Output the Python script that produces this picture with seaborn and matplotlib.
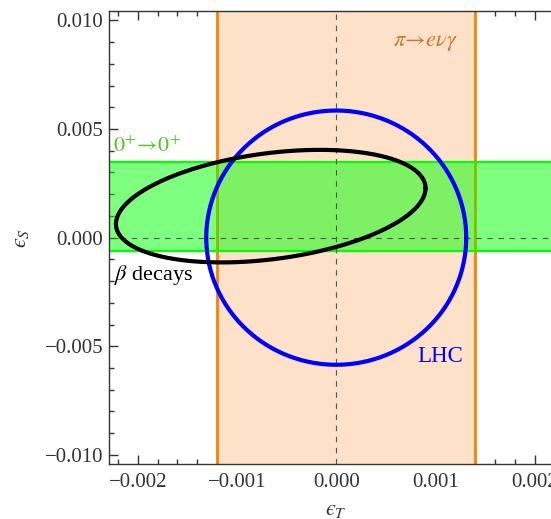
import numpy as np
import matplotlib
matplotlib.use("Agg")
import matplotlib.pyplot as plt
from matplotlib.ticker import MultipleLocator
import seaborn as sns

# ---- data ----
x_limits = [-0.00229, 0.0025]
y_limits = [-0.01043, 0.01043]
x_ticks = [-0.002, -0.001, 0.0, 0.001, 0.002]
x_tick_labels = ["\u22120.002", "\u22120.001", "0.000", "0.001", "0.002"]
y_ticks = [-0.010, -0.005, 0.0, 0.005, 0.010]
y_tick_labels = ["\u22120.010", "\u22120.005", "0.000", "0.005", "0.010"]

pi_band_x = [-0.0012, 0.0014]          # pi -> e nu gamma allowed eps_T range
superallowed_band_y = [-0.0006, 0.00347]  # 0+ -> 0+ allowed eps_S range

lhc_center = [0.0, 0.0]
lhc_semi_axes = [0.00131, 0.00585]

beta_center = [-0.00066, 0.00145]
beta_amplitudes = [0.00156, 0.00259]
beta_phase_deg = 71.5

# ---- style ----
sns.set_theme(style="white")
plt.rcParams["font.family"] = ["Liberation Serif", "DejaVu Serif"]
plt.rcParams["mathtext.fontset"] = "stix"
tick_color = "#333333"

fig = plt.figure(figsize=(5.51, 5.19), dpi=100)
ax = fig.add_axes([109 / 551, (519 - 464.3) / 519, 475.3 / 551 * (x_limits[1] - x_limits[0]) / 0.00479, 453.3 / 519])

# bands
ax.axvspan(pi_band_x[0], pi_band_x[1], color="#FDE1C9", lw=0, zorder=1)
for xv in pi_band_x:
    ax.axvline(xv, color="#FF8000", lw=2.0, zorder=2)
ax.axhspan(superallowed_band_y[0], superallowed_band_y[1], color="#00FF00", alpha=0.5, lw=0, zorder=3)
for yv in superallowed_band_y:
    ax.axhline(yv, color="#00FF00", lw=1.6, zorder=3)

# dashed zero lines
ax.axvline(0, color="#555555", lw=0.8, ls=(0, (5, 5)), zorder=4)
ax.axhline(0, color="#555555", lw=0.8, ls=(0, (5, 5)), zorder=4)

# ellipses
t = np.linspace(0, 2 * np.pi, 400)
lhc_x = lhc_center[0] + lhc_semi_axes[0] * np.cos(t)
lhc_y = lhc_center[1] + lhc_semi_axes[1] * np.sin(t)
phi = np.deg2rad(beta_phase_deg)
beta_x = beta_center[0] + beta_amplitudes[0] * np.cos(t)
beta_y = beta_center[1] + beta_amplitudes[1] * np.cos(t - phi)
sns.lineplot(x=lhc_x, y=lhc_y, sort=False, estimator=None, color="#0000FF", lw=3.0, ax=ax, zorder=5)
sns.lineplot(x=beta_x, y=beta_y, sort=False, estimator=None, color="black", lw=3.0, ax=ax, zorder=6)

# annotations
ax.text(0.000904, 0.00896, r"$\pi\!\rightarrow\! e\nu\gamma$", color="#C8782A", fontsize=16,
        ha="center", va="center", zorder=7)
ax.text(-0.00225, 0.00417, r"$\mathrm{0^{+}\!\rightarrow\! 0^{+}}$", color="#55C42A", fontsize=16,
        ha="left", va="center", zorder=7)
ax.text(-0.00224, -0.00172, r"$\beta$ decays", color="black", fontsize=16,
        ha="left", va="center", zorder=7)
ax.text(0.001045, -0.00549, "LHC", color="#0000FF", fontsize=16.5,
        ha="center", va="center", zorder=7)

# axes
ax.set_xlim(*x_limits)
ax.set_ylim(*y_limits)
ax.set_xticks(x_ticks, labels=x_tick_labels)
ax.set_yticks(y_ticks, labels=y_tick_labels)
ax.xaxis.set_minor_locator(MultipleLocator(0.0002))
ax.yaxis.set_minor_locator(MultipleLocator(0.001))
ax.tick_params(which="both", direction="in", top=True, right=True, bottom=True, left=True,
               color=tick_color, labelcolor=tick_color, labelsize=15, width=1.0)
ax.tick_params(which="major", length=6.5)
ax.tick_params(which="minor", length=3.5)
ax.tick_params(axis="x", pad=6)
ax.tick_params(axis="y", pad=4)
for sp in ax.spines.values():
    sp.set_color(tick_color)
    sp.set_linewidth(1.0)
    sp.set_zorder(8)

ax.set_xlabel("$\u03f5_T$", fontsize=16, color=tick_color)
ax.set_ylabel("$\u03f5_S$", fontsize=16, color=tick_color)
ax.xaxis.set_label_coords((336.3 - 109) / 475.3, -0.08)
ax.yaxis.set_label_coords(-0.165, 0.5)

fig.savefig("out.png", dpi=100)
